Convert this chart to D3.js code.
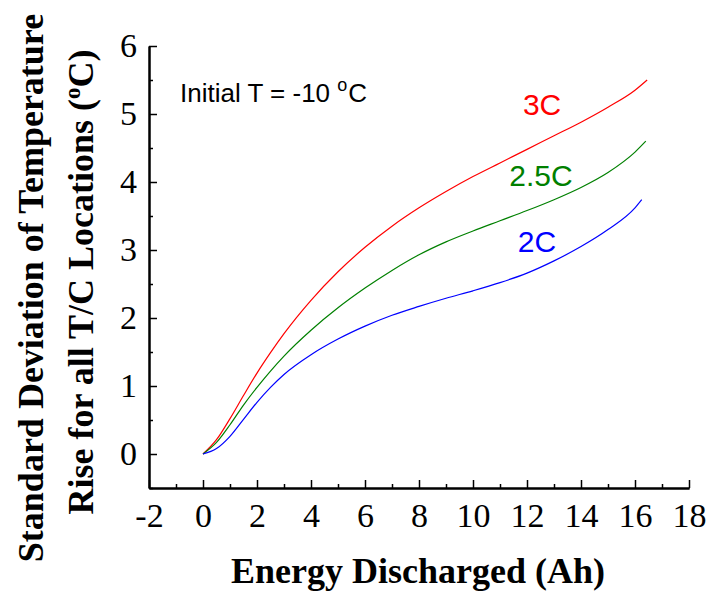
<!DOCTYPE html>
<html>
<head>
<meta charset="utf-8">
<script src="https://cdn.jsdelivr.net/npm/d3@7"></script>
<style>
  body { margin: 0; background: #fff; }
  svg { display: block; }
</style>
</head>
<body>
<div id="chart"></div>
<script>
// data (Ah discharged vs std dev of temperature rise)
const xs3C  = [0, 0.5, 1, 1.5, 2, 2.5, 3, 4, 5, 6, 7, 8, 9, 10, 11, 12, 13, 14, 15, 16, 16.45];
const ys3C  = [0, 0.21, 0.52, 0.86, 1.19, 1.49, 1.77, 2.26, 2.68, 3.04, 3.35, 3.62, 3.86, 4.08, 4.28, 4.48, 4.68, 4.88, 5.1, 5.35, 5.5];
const xs25C = [0, 0.5, 1, 1.5, 2, 2.5, 3, 4, 5, 6, 7, 8, 9, 10, 11, 12, 13, 14, 15, 16, 16.4];
const ys25C = [0, 0.17, 0.43, 0.72, 0.98, 1.22, 1.44, 1.82, 2.15, 2.44, 2.7, 2.93, 3.12, 3.28, 3.43, 3.58, 3.74, 3.92, 4.14, 4.44, 4.6];
const xs2C  = [0, 0.5, 1, 1.5, 2, 2.5, 3, 4, 5, 6, 7, 8, 9, 10, 11, 12, 13, 14, 15, 16, 16.25];
const ys2C  = [0, 0.08, 0.26, 0.51, 0.76, 0.98, 1.17, 1.46, 1.69, 1.88, 2.04, 2.17, 2.29, 2.4, 2.52, 2.66, 2.84, 3.05, 3.3, 3.62, 3.74];

const seriesNames = ["3C", "2.5C", "2C"];
const seriesColors = ["#ff0000", "#008000", "#0000ff"];
const labelPos = [[12.56, 4.98], [12.52, 3.94], [12.37, 2.97]];

const xMajor = [-2, 0, 2, 4, 6, 8, 10, 12, 14, 16, 18];
const xMinor = d3.range(-1, 18, 2);
const yMajor = [0, 1, 2, 3, 4, 5, 6];
const yMinor = [-0.5, 0.5, 1.5, 2.5, 3.5, 4.5, 5.5];

const width = 709, height = 594;
const serif = "'Liberation Serif', 'Times New Roman', serif";
const sans = "'Liberation Sans', Arial, sans-serif";

const svg = d3.select("#chart").append("svg")
    .attr("width", width)
    .attr("height", height);

const x = d3.scaleLinear().domain([-2, 18]).range([149, 689]);
const y = d3.scaleLinear().domain([-0.5, 6]).range([488, 46]);

// ─── AXES (ticks point inward) ──────────
const gx = svg.append("g").attr("transform", `translate(0,${y(-0.5)})`);
gx.call(d3.axisBottom(x).tickValues(xMajor).tickSize(-8).tickSizeOuter(0).tickPadding(15).tickFormat(String));
gx.append("g").call(d3.axisBottom(x).tickValues(xMinor).tickSize(-4).tickSizeOuter(0).tickFormat(""));

const gy = svg.append("g").attr("transform", `translate(${x(-2)},0)`);
gy.call(d3.axisLeft(y).tickValues(yMajor).tickSize(-8).tickSizeOuter(0).tickPadding(12).tickFormat(String));
gy.append("g").call(d3.axisLeft(y).tickValues(yMinor).tickSize(-4).tickSizeOuter(0).tickFormat(""));

svg.selectAll(".domain").attr("stroke", "#000").attr("stroke-width", 2);
svg.selectAll(".tick line").attr("stroke", "#000").attr("stroke-width", 1.5);
svg.selectAll(".tick text")
    .attr("font-family", serif)
    .attr("font-size", 34)
    .attr("fill", "#000");

// ─── CURVES ─────────────────────────────
const line = d3.line()
    .x(d => x(d[0]))
    .y(d => y(d[1]))
    .curve(d3.curveMonotoneX);

const series = [
    d3.zip(xs3C, ys3C),
    d3.zip(xs25C, ys25C),
    d3.zip(xs2C, ys2C)
];

series.forEach((pts, i) => {
    svg.append("path")
        .datum(pts)
        .attr("d", line)
        .attr("fill", "none")
        .attr("stroke", seriesColors[i])
        .attr("stroke-width", 1.2);
    svg.append("text")
        .attr("x", x(labelPos[i][0]))
        .attr("y", y(labelPos[i][1]))
        .attr("text-anchor", "middle")
        .attr("font-family", sans)
        .attr("font-size", 30)
        .attr("fill", seriesColors[i])
        .text(seriesNames[i]);
});

// ─── ANNOTATION ─────────────────────────
const note = svg.append("text")
    .attr("x", 180)
    .attr("y", 102)
    .attr("font-family", sans)
    .attr("font-size", 26)
    .attr("fill", "#000");
note.append("tspan").text("Initial T = -10 ");
note.append("tspan").attr("dy", -11).attr("font-size", 18).text("o");
note.append("tspan").attr("dy", 11).attr("dx", 1).text("C");

// ─── AXIS TITLES ────────────────────────
svg.append("text")
    .attr("x", 418)
    .attr("y", 583)
    .attr("text-anchor", "middle")
    .attr("font-family", serif)
    .attr("font-weight", "bold")
    .attr("font-size", 36)
    .text("Energy Discharged (Ah)");

svg.append("text")
    .attr("transform", "translate(43,288) rotate(-90)")
    .attr("text-anchor", "middle")
    .attr("font-family", serif)
    .attr("font-weight", "bold")
    .attr("font-size", 36)
    .text("Standard Deviation of Temperature");

const t2 = svg.append("text")
    .attr("transform", "translate(93,282) rotate(-90)")
    .attr("text-anchor", "middle")
    .attr("font-family", serif)
    .attr("font-weight", "bold")
    .attr("font-size", 36);
t2.append("tspan").text("Rise for all T/C Locations (");
t2.append("tspan").attr("dy", -13).attr("font-size", 23).text("o");
t2.append("tspan").attr("dy", 13).text("C)");
</script>
</body>
</html>
